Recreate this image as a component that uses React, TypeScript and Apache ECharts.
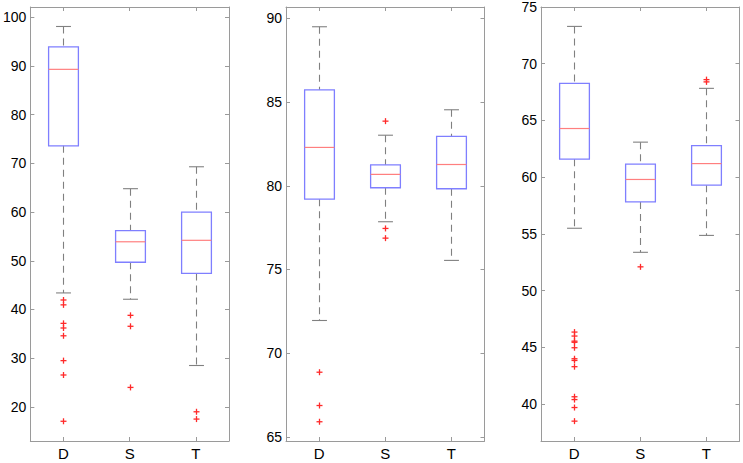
import React, { useEffect, useRef } from "react";
import * as echarts from "echarts";

const CATEGORIES = ["D", "S", "T"];

// [lower whisker, Q1, median, Q3, upper whisker] per category
const PANEL1_BOXES = [
  [43.4, 73.6, 89.3, 93.9, 98.1],
  [42.1, 49.7, 53.9, 56.2, 64.8],
  [28.5, 47.4, 54.2, 60.0, 69.3],
];
const PANEL1_OUTLIERS_D = [41.95, 40.95, 37.15, 36.2, 34.6, 29.5, 26.55, 17.05];
const PANEL1_OUTLIERS_S = [38.8, 36.55, 24.0];
const PANEL1_OUTLIERS_T = [19.0, 17.5];
const PANEL1_TICKS = [20, 30, 40, 50, 60, 70, 80, 90, 100];

const PANEL2_BOXES = [
  [71.95, 79.2, 82.29, 85.73, 89.5],
  [77.85, 79.88, 80.68, 81.25, 83.02],
  [75.54, 79.82, 81.27, 82.95, 84.54],
];
const PANEL2_OUTLIERS_D = [68.86, 66.87, 65.9];
const PANEL2_OUTLIERS_S = [83.86, 77.45, 76.87];
const PANEL2_OUTLIERS_T: number[] = [];
const PANEL2_TICKS = [65, 70, 75, 80, 85, 90];

const PANEL3_BOXES = [
  [55.5, 61.59, 64.29, 68.27, 73.29],
  [53.38, 57.82, 59.8, 61.15, 63.09],
  [54.87, 59.3, 61.2, 62.79, 67.83],
];
const PANEL3_OUTLIERS_D = [46.35, 46.0, 45.55, 45.45, 44.97, 44.0, 43.85, 43.3, 40.65, 40.4, 39.7, 38.5];
const PANEL3_OUTLIERS_S = [52.1];
const PANEL3_OUTLIERS_T = [68.6, 68.4];
const PANEL3_TICKS = [40, 45, 50, 55, 60, 65, 70, 75];

const PANELS = [
  { boxes: PANEL1_BOXES, outliers: [PANEL1_OUTLIERS_D, PANEL1_OUTLIERS_S, PANEL1_OUTLIERS_T], ticks: PANEL1_TICKS, min: 13.0, max: 102.1, left: 30, width: 199 },
  { boxes: PANEL2_BOXES, outliers: [PANEL2_OUTLIERS_D, PANEL2_OUTLIERS_S, PANEL2_OUTLIERS_T], ticks: PANEL2_TICKS, min: 64.75, max: 90.68, left: 286, width: 198.5 },
  { boxes: PANEL3_BOXES, outliers: [PANEL3_OUTLIERS_D, PANEL3_OUTLIERS_S, PANEL3_OUTLIERS_T], ticks: PANEL3_TICKS, min: 36.75, max: 75.0, left: 541, width: 198.5 },
];

const FONT = "'Liberation Sans', Arial, Helvetica, sans-serif";
const AXIS_COLOR = "#9a9a9a";
const BOX_COLOR = "#7f7fff";
const MEDIAN_COLOR = "#ff7f7f";
const WHISKER_COLOR = "#808080";
const OUTLIER_COLOR = "#ff2a2a";

export default function App() {
  const ref = useRef<HTMLDivElement>(null);

  useEffect(() => {
    if (!ref.current) return;
    const chart = echarts.init(ref.current, null, { renderer: "svg" });

    const grid: any[] = [];
    const xAxis: any[] = [];
    const yAxis: any[] = [];
    const series: any[] = [];

    PANELS.forEach((p, i) => {
      grid.push({ left: p.left, top: 7, width: p.width, height: 434, containLabel: false });
      xAxis.push({
        type: "category",
        gridIndex: i,
        data: CATEGORIES,
        position: "bottom",
        boundaryGap: true,
        axisLine: { show: true, lineStyle: { color: AXIS_COLOR, width: 1 } },
        axisTick: { show: true, inside: true, alignWithLabel: true, length: 4, lineStyle: { color: AXIS_COLOR } },
        axisLabel: { show: true, color: "#000", fontSize: 15, fontFamily: FONT, margin: 5 },
        splitLine: { show: false },
      });
      xAxis.push({
        type: "category",
        gridIndex: i,
        data: CATEGORIES,
        position: "top",
        boundaryGap: true,
        axisLine: { show: true, lineStyle: { color: AXIS_COLOR, width: 1 } },
        axisTick: { show: true, inside: true, alignWithLabel: true, length: 4, lineStyle: { color: AXIS_COLOR } },
        axisLabel: { show: false },
        splitLine: { show: false },
      });
      yAxis.push({
        type: "value",
        gridIndex: i,
        position: "left",
        min: p.min,
        max: p.max,
        axisLine: { show: true, lineStyle: { color: AXIS_COLOR, width: 1 } },
        axisTick: { show: true, inside: true, length: 4, customValues: p.ticks, lineStyle: { color: AXIS_COLOR } },
        axisLabel: { show: true, color: "#000", fontSize: 14, fontFamily: FONT, margin: 4, customValues: p.ticks },
        splitLine: { show: false },
      });
      yAxis.push({
        type: "value",
        gridIndex: i,
        position: "right",
        min: p.min,
        max: p.max,
        axisLine: { show: true, lineStyle: { color: AXIS_COLOR, width: 1 } },
        axisTick: { show: true, inside: true, length: 4, customValues: p.ticks, lineStyle: { color: AXIS_COLOR } },
        axisLabel: { show: false },
        splitLine: { show: false },
      });

      const boxData = p.boxes.map((b, ci) => [ci, ...b]);
      series.push({
        type: "custom",
        xAxisIndex: 2 * i,
        yAxisIndex: 2 * i,
        data: boxData,
        encode: { x: 0, y: [1, 2, 3, 4, 5] },
        renderItem: (params: any, api: any) => {
          const c = api.value(0);
          const pLow = api.coord([c, api.value(1)]);
          const pQ1 = api.coord([c, api.value(2)]);
          const pMed = api.coord([c, api.value(3)]);
          const pQ3 = api.coord([c, api.value(4)]);
          const pHigh = api.coord([c, api.value(5)]);
          const band = api.size([1, 0])[0];
          const bw = band * 0.45;
          const cw = bw / 2;
          const cx = Math.round(pLow[0]) + 0.5;
          const dashStyle = { stroke: WHISKER_COLOR, lineWidth: 1.1, lineDash: [7, 5] };
          const capStyle = { stroke: WHISKER_COLOR, lineWidth: 1.1 };
          return {
            type: "group",
            children: [
              { type: "line", shape: { x1: cx, y1: pHigh[1], x2: cx, y2: pQ3[1] }, style: dashStyle },
              { type: "line", shape: { x1: cx, y1: pQ1[1], x2: cx, y2: pLow[1] }, style: dashStyle },
              { type: "line", shape: { x1: cx - cw / 2, y1: pHigh[1], x2: cx + cw / 2, y2: pHigh[1] }, style: capStyle },
              { type: "line", shape: { x1: cx - cw / 2, y1: pLow[1], x2: cx + cw / 2, y2: pLow[1] }, style: capStyle },
              {
                type: "rect",
                shape: { x: cx - bw / 2, y: pQ3[1], width: bw, height: pQ1[1] - pQ3[1] },
                style: { fill: "none", stroke: BOX_COLOR, lineWidth: 1.3 },
              },
              { type: "line", shape: { x1: cx - bw / 2, y1: pMed[1], x2: cx + bw / 2, y2: pMed[1] }, style: { stroke: MEDIAN_COLOR, lineWidth: 1.2 } },
            ],
          };
        },
        z: 2,
      });

      const outData: number[][] = [];
      p.outliers.forEach((arr, ci) => arr.forEach((v) => outData.push([ci, v])));
      series.push({
        type: "custom",
        xAxisIndex: 2 * i,
        yAxisIndex: 2 * i,
        data: outData,
        encode: { x: 0, y: 1 },
        renderItem: (params: any, api: any) => {
          const pt = api.coord([api.value(0), api.value(1)]);
          const x = Math.round(pt[0]) + 0.5;
          const y = pt[1];
          const h = 3;
          const st = { stroke: OUTLIER_COLOR, lineWidth: 1.3 };
          return {
            type: "group",
            children: [
              { type: "line", shape: { x1: x - h, y1: y, x2: x + h, y2: y }, style: st },
              { type: "line", shape: { x1: x, y1: y - h, x2: x, y2: y + h }, style: st },
            ],
          };
        },
        z: 3,
      });
    });

    chart.setOption({
      animation: false,
      backgroundColor: "#ffffff",
      grid,
      xAxis,
      yAxis,
      series,
    });

    return () => {
      chart.dispose();
    };
  }, []);

  return (
    <div
      ref={ref}
      style={{ position: "fixed", left: 0, top: 0, width: 743, height: 463, background: "#fff" }}
    />
  );
}
